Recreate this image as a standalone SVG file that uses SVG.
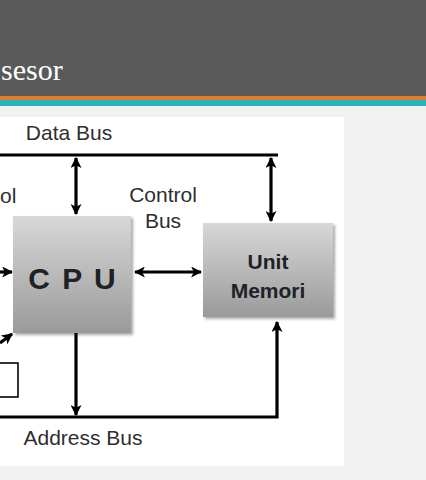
<svg xmlns="http://www.w3.org/2000/svg" width="426" height="480" viewBox="0 0 426 480">
<defs>
<style>
.lbl{font-family:"Liberation Sans",Arial,sans-serif;font-size:21px;fill:#2e2e2e}
.bus{stroke:#000;stroke-width:3.2;fill:none}
.box{stroke:none}
.cpu{font-family:"Liberation Sans",Arial,sans-serif;font-size:30px;font-weight:bold;fill:#1e2126;letter-spacing:2px}
.mem{font-family:"Liberation Sans",Arial,sans-serif;font-size:21px;font-weight:bold;fill:#1e2126}
</style>
<marker id="ah" viewBox="0 0 10 10" refX="9" refY="5" markerWidth="11" markerHeight="11" markerUnits="userSpaceOnUse" orient="auto-start-reverse">
<path d="M0,0 L10,5 L0,10 L2.5,5 Z" fill="#000"/>
</marker>
<linearGradient id="g" x1="0" y1="0" x2="0" y2="1">
<stop offset="0" stop-color="#d8d8d8"/>
<stop offset="1" stop-color="#9a9a9a"/>
</linearGradient>
<filter id="sh" x="-10%" y="-10%" width="125%" height="125%">
<feGaussianBlur in="SourceAlpha" stdDeviation="1.5"/>
<feOffset dx="1.5" dy="2" result="b"/>
<feComponentTransfer><feFuncA type="linear" slope="0.35"/></feComponentTransfer>
<feMerge><feMergeNode/><feMergeNode in="SourceGraphic"/></feMerge>
</filter>
</defs>
<rect x="0" y="0" width="426" height="480" fill="#f1f1f1"/>
<g id="header">
<rect x="0" y="0" width="426" height="96" fill="#5a5a5a"/>
<rect x="0" y="96" width="426" height="4" fill="#e07b2a"/>
<rect x="0" y="100" width="426" height="6" fill="#27b4c0"/>
<text x="1" y="80" font-family="'Liberation Serif','Times New Roman',serif" font-size="30" fill="#ffffff">sesor</text>
</g>
<rect x="0" y="117" width="344" height="349" fill="#ffffff"/>
<g id="connectors">
<line class="bus" x1="0" y1="155" x2="278" y2="155"/>
<line class="bus" x1="76" y1="158" x2="76" y2="214" marker-start="url(#ah)" marker-end="url(#ah)"/>
<line class="bus" x1="271" y1="158" x2="271" y2="221" marker-start="url(#ah)" marker-end="url(#ah)"/>
<line class="bus" x1="135" y1="272" x2="201" y2="272" marker-start="url(#ah)" marker-end="url(#ah)"/>
<line class="bus" x1="0" y1="272" x2="12" y2="272" marker-end="url(#ah)"/>
<line class="bus" x1="0" y1="343" x2="12" y2="334" stroke-width="2.5" marker-end="url(#ah)"/>
<line class="bus" x1="76" y1="333" x2="76" y2="415" marker-end="url(#ah)"/>
<polyline class="bus" points="0,417 277,417 277,322" marker-end="url(#ah)"/>
</g>
<g id="cpu">
<rect class="box" x="13" y="216" width="118" height="117" fill="url(#g)" filter="url(#sh)"/>
<text class="cpu" x="73" y="289" text-anchor="middle">C P U</text>
</g>
<g id="memory">
<rect class="box" x="203" y="223" width="130" height="94" fill="url(#g)" filter="url(#sh)"/>
<text class="mem" x="268" y="269" text-anchor="middle">Unit</text>
<text class="mem" x="268" y="298" text-anchor="middle">Memori</text>
</g>
<g id="small-box">
<rect x="-5" y="363" width="23" height="34" fill="#fff" stroke="#000" stroke-width="1.6"/>
</g>
<g id="labels">
<text class="lbl" x="69" y="140" text-anchor="middle">Data Bus</text>
<text class="lbl" x="163" y="202" text-anchor="middle">Control</text>
<text class="lbl" x="163" y="228" text-anchor="middle">Bus</text>
<text class="lbl" x="0" y="203">ol</text>
<text class="lbl" x="83" y="445" text-anchor="middle">Address Bus</text>
</g>
</svg>
